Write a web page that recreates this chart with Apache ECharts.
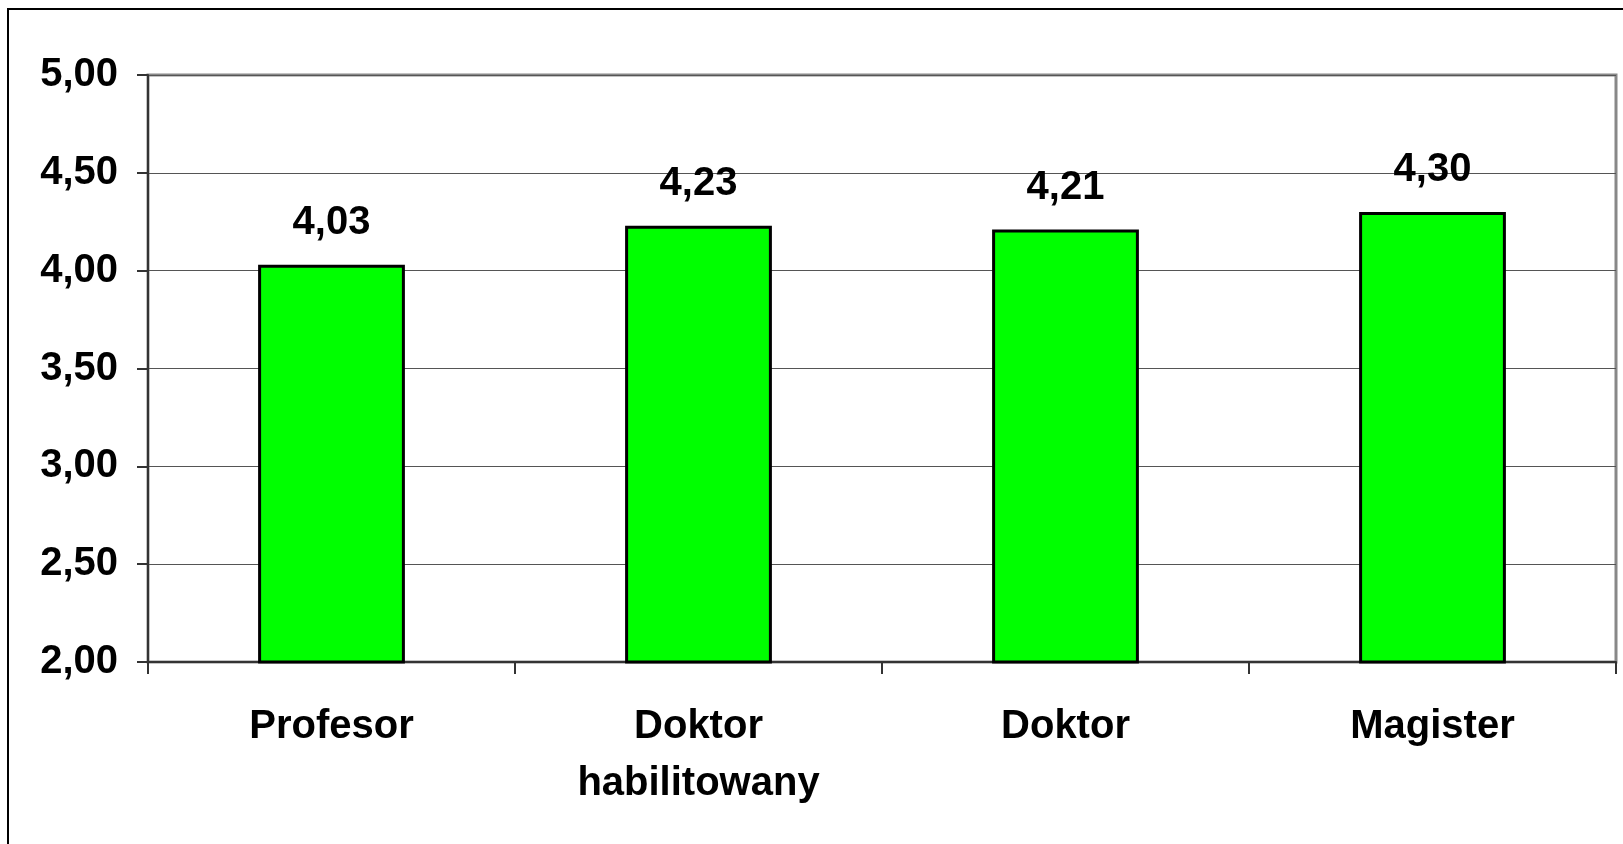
<!DOCTYPE html>
<html>
<head>
<meta charset="utf-8">
<script src="https://cdn.jsdelivr.net/npm/echarts@6/dist/echarts.min.js"></script>
<style>
  html, body { margin: 0; padding: 0; background: #ffffff; }
  #chart { width: 1623px; height: 844px; }
</style>
</head>
<body>
<div id="chart"></div>
<script>
// kategorie i wartości
const categories = ['Profesor', 'Doktor\nhabilitowany', 'Doktor', 'Magister'];
const values = [4.03, 4.23, 4.21, 4.30];
const yTicks = [2.0, 2.5, 3.0, 3.5, 4.0, 4.5, 5.0];

const FONT = '"Liberation Sans", Arial, sans-serif';
const fmt = v => Number(v).toFixed(2).replace('.', ',');

const myChart = echarts.init(document.getElementById('chart'));

const option = {
  animation: false,
  backgroundColor: '#ffffff',
  textStyle: { fontFamily: FONT },
  // zewnętrzna ramka
  graphic: [{
    type: 'rect',
    z: 100,
    shape: { x: 8, y: 9, width: 1700, height: 900 },
    style: { fill: 'none', stroke: '#000000', lineWidth: 2 }
  }],
  grid: {
    left: 148,
    right: 7,
    top: 75,
    bottom: 182,
    show: true,
    borderColor: '#888888',
    borderWidth: 3,
    backgroundColor: 'transparent'
  },
  xAxis: {
    type: 'category',
    data: categories,
    axisLine: { show: true, lineStyle: { color: '#333333', width: 2 } },
    axisTick: { show: true, alignWithLabel: false, length: 12, lineStyle: { color: '#333333', width: 2 } },
    axisLabel: {
      margin: 36,
      color: '#000000',
      fontSize: 40,
      fontWeight: 'bold',
      fontFamily: FONT,
      lineHeight: 57
    }
  },
  yAxis: {
    type: 'value',
    min: yTicks[0],
    max: yTicks[yTicks.length - 1],
    interval: 0.5,
    axisLine: { show: true, lineStyle: { color: '#333333', width: 2 } },
    axisTick: { show: true, length: 11, lineStyle: { color: '#333333', width: 2 } },
    splitLine: { show: true, lineStyle: { color: '#555555', width: 1 } },
    axisLabel: {
      margin: 30,
      color: '#000000',
      fontSize: 40,
      fontWeight: 'bold',
      fontFamily: FONT,
      formatter: v => fmt(v)
    }
  },
  series: [{
    type: 'bar',
    data: values,
    barWidth: '40%',
    itemStyle: { color: '#00ff00', borderColor: '#000000', borderWidth: 3 },
    label: {
      show: true,
      position: 'top',
      distance: 22,
      color: '#000000',
      fontSize: 40,
      fontWeight: 'bold',
      fontFamily: FONT,
      formatter: p => fmt(p.value)
    }
  }]
};

myChart.setOption(option);
</script>
</body>
</html>
